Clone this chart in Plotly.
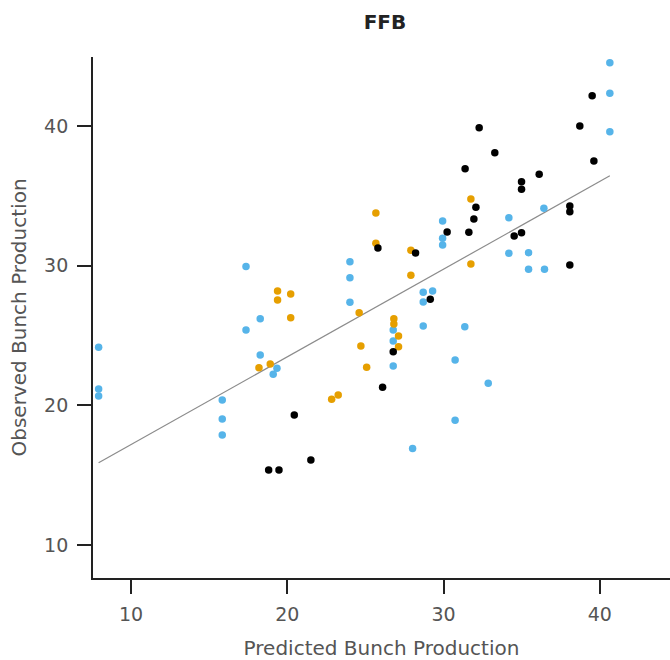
import plotly.graph_objects as go

# Observed vs predicted fresh fruit bunch production, three groups
blue_pred = [40.64, 40.64, 40.64, 24.01, 24.01, 24.01, 17.36, 18.27, 17.36, 7.93,
             18.27, 19.34, 19.10, 7.93, 7.93, 15.84, 15.84, 15.84, 29.94, 29.94,
             29.94, 34.18, 36.42, 34.18, 35.44, 35.44, 36.46, 28.70, 29.30, 28.70,
             26.78, 26.78, 28.70, 31.36, 30.74, 26.78, 32.86, 30.74, 28.02]
blue_obs = [44.53, 42.34, 39.59, 30.28, 29.14, 27.38, 29.95, 26.20, 25.39, 24.16,
            23.60, 22.65, 22.22, 21.17, 20.67, 20.38, 19.02, 17.88, 33.20, 31.96,
            31.48, 33.43, 34.11, 30.89, 30.93, 29.74, 29.74, 28.09, 28.19, 27.40,
            25.39, 24.61, 25.68, 25.63, 23.25, 22.82, 21.58, 18.93, 16.92]

orange_pred = [25.67, 25.67, 27.91, 31.75, 31.75, 27.91, 19.38, 19.38, 20.22, 20.22,
               24.60, 24.71, 18.19, 18.91, 25.08, 22.84, 23.26, 26.82, 26.82, 27.12,
               27.12]
orange_obs = [33.77, 31.60, 31.10, 34.77, 30.12, 29.31, 28.19, 27.54, 27.97, 26.27,
              26.63, 24.25, 22.69, 22.96, 22.72, 20.43, 20.74, 26.20, 25.82, 24.96,
              24.20]

black_pred = [25.80, 28.21, 39.51, 38.72, 32.28, 33.28, 39.62, 31.38, 36.12, 34.99,
              34.99, 32.07, 38.08, 38.08, 31.94, 30.23, 31.62, 34.52, 34.99, 38.08,
              29.15, 26.78, 26.10, 20.45, 21.51, 18.81, 19.47]
black_obs = [31.27, 30.91, 42.17, 40.00, 39.88, 38.09, 37.49, 36.94, 36.54, 36.01,
             35.47, 34.18, 34.27, 33.86, 33.34, 32.41, 32.39, 32.12, 32.36, 30.05,
             27.59, 23.84, 21.29, 19.31, 16.09, 15.37, 15.37]

# Fitted regression line: observed = intercept + slope * predicted
fit_coef = [10.91, 0.628]

x_ticks = [10, 20, 30, 40]
y_ticks = [10, 20, 30, 40]

all_pred = blue_pred + orange_pred + black_pred
x_lo, x_hi = min(all_pred), max(all_pred)
fit_x = [x_lo, x_hi]
fit_y = [fit_coef[0] + fit_coef[1] * v for v in fit_x]

fig = go.Figure()
fig.add_trace(go.Scatter(x=fit_x, y=fit_y, mode="lines",
                         line=dict(color="#8c8c8c", width=1.2),
                         hoverinfo="skip", showlegend=False))
for xs, ys, col in [(blue_pred, blue_obs, "#56B4E9"),
                    (orange_pred, orange_obs, "#E69F00"),
                    (black_pred, black_obs, "#000000")]:
    fig.add_trace(go.Scatter(x=xs, y=ys, mode="markers",
                             marker=dict(color=col, size=7.5, line=dict(width=0)),
                             showlegend=False))

font_family = "DejaVu Sans"
fig.update_layout(
    width=670, height=660,
    margin=dict(l=93, r=0, t=57, b=82),
    paper_bgcolor="white", plot_bgcolor="white",
    font=dict(family=font_family, size=19, color="#444444"),
    title=dict(text="<b>FFB</b>", x=0.506, xref="paper", y=0.967, yref="container",
               xanchor="center", yanchor="middle",
               font=dict(family=font_family, size=20, color="#222222")),
)
fig.update_xaxes(
    range=[7.57, 44.49], tickvals=x_ticks, ticktext=[str(t) for t in x_ticks],
    showgrid=False, zeroline=False, showline=True, linecolor="#222222", linewidth=1.8,
    ticks="outside", ticklen=14, tickwidth=1.5, tickcolor="#222222",
    tickfont=dict(size=19, color="#555555"), ticklabelstandoff=4,
    title=dict(text="Predicted Bunch Production", standoff=20,
               font=dict(size=20, color="#555555")),
)
fig.update_yaxes(
    range=[7.64, 44.94], tickvals=y_ticks, ticktext=[str(t) for t in y_ticks],
    showgrid=False, zeroline=False, showline=True, linecolor="#222222", linewidth=1.8,
    ticks="outside", ticklen=14, tickwidth=1.5, tickcolor="#222222",
    tickfont=dict(size=19, color="#555555"), ticklabelstandoff=5,
    title=dict(text="Observed Bunch Production", standoff=12,
               font=dict(size=20, color="#555555")),
)

fig.write_html("out.html")
